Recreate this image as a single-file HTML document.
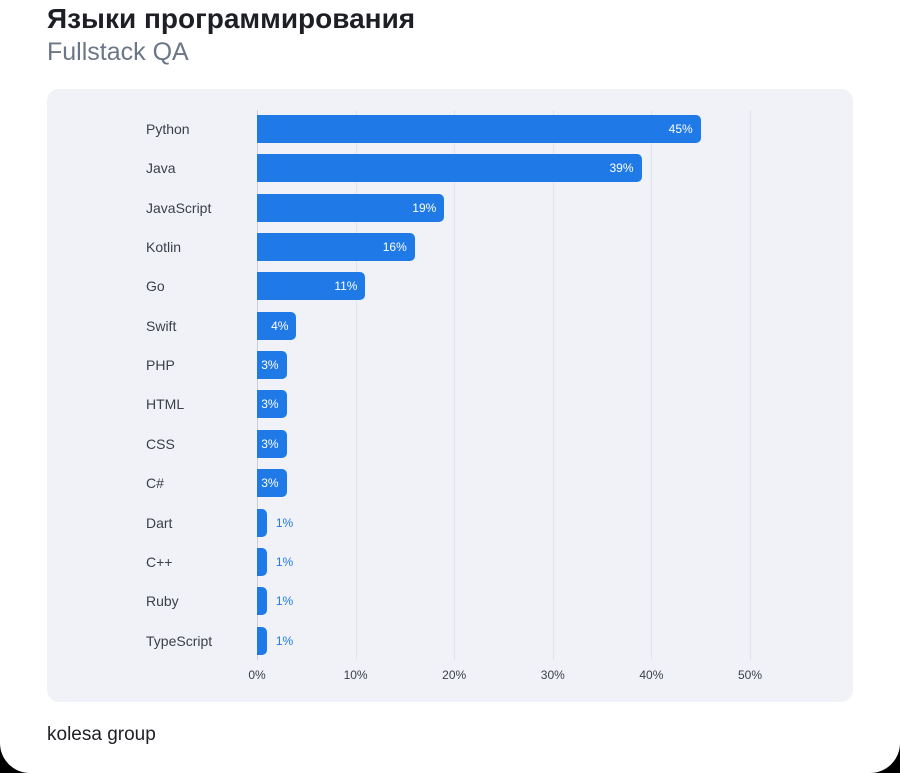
<!DOCTYPE html>
<html><head><meta charset="utf-8"><style>
body{margin:0;background:#000;width:900px;height:773px;overflow:hidden;font-family:"Liberation Sans",sans-serif}
.card{position:absolute;left:0;top:0;width:900px;height:773px;background:#fff;border-radius:0 0 30px 30px}
.t{position:absolute;left:47px;top:3px;font-size:28px;font-weight:bold;color:#1d1f24}
.s{position:absolute;left:47px;top:38px;font-size:25px;color:#6b7686}
.panel{position:absolute;left:47px;top:89px;width:806px;height:613px;background:#f0f2f7;border-radius:12px}
.g{position:absolute;top:110px;height:550px;width:1px;background:#e0e3ea}
.lab{position:absolute;left:146px;font-size:14px;color:#3a3f4a;line-height:29px}
.bar{position:absolute;left:257px;height:28px;background:#1f7ae8;border-radius:0 5px 5px 0}
.v{position:absolute;font-size:12px;line-height:28px;color:#fff}
.vo{color:#1f7ae8}
.x{position:absolute;top:668px;font-size:12px;color:#3a3f4a;transform:translateX(-50%)}
.f{position:absolute;left:47px;top:724px;font-size:19px;color:#1d1f24}
</style></head><body><div class="card">
<div class="t">Языки программирования</div>
<div class="s">Fullstack QA</div>
<div class="panel"></div>
<div id="c"></div>
<div class="f">kolesa group</div>
</div>
<script>
var d=[["Python",45],["Java",39],["JavaScript",19],["Kotlin",16],["Go",11],["Swift",4],["PHP",3],["HTML",3],["CSS",3],["C#",3],["Dart",1],["C++",1],["Ruby",1],["TypeScript",1]];
var h="";
for(var i=0;i<=5;i++){var x=257+i*98.6;h+='<div class="g" style="left:'+Math.round(x)+'px;'+(i==0?'background:#c9ced8':'')+'"></div><div class="x" style="left:'+x+'px">'+(i*10)+'%</div>';}
d.forEach(function(r,i){var y=115+i*39.35,w=r[1]*9.86;
h+='<div class="lab" style="top:'+y+'px">'+r[0]+'</div><div class="bar" style="top:'+y+'px;width:'+w+'px"></div>';
if(r[1]>=3)h+='<div class="v" style="top:'+y+'px;left:'+(257+w-8)+'px;transform:translateX(-100%)">'+r[1]+'%</div>';
else h+='<div class="v vo" style="top:'+y+'px;left:'+(257+w+9)+'px">'+r[1]+'%</div>';});
document.getElementById("c").innerHTML=h;
</script></body></html>
